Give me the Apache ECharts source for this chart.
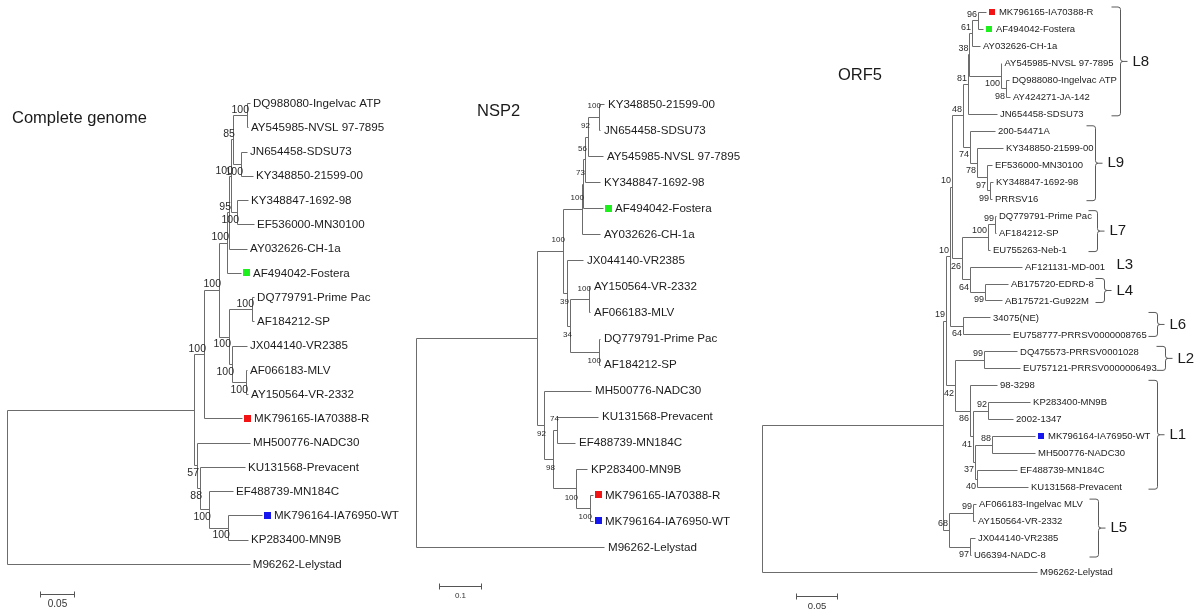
<!DOCTYPE html>
<html><head><meta charset="utf-8">
<script src="https://cdn.jsdelivr.net/npm/echarts/dist/echarts.min.js"></script>
<style>html,body{margin:0;padding:0;background:#fff}#c{width:1196px;height:615px}</style>
</head><body><div id="c"></div><script>
// ===== DATA =====
// Each tree: [node, parent, branch length (substitutions/site), bootstrap]
const genomeTree = [
 ['root', null, 0, ''],
 ['nA', 'root', 0.275, ''],
 ['nB', 'nA', 0.0147, '100'],
 ['nH', 'nB', 0.0221, '100'],
 ['nP4', 'nH', 0.0118, '100'],
 ['nP3', 'nP4', 0.0029, '95'],
 ['nP2', 'nP3', 0.0029, '100'],
 ['nP1', 'nP2', 0.0029, '85'],
 ['nATP', 'nP1', 0.0206, '100'],
 ['DQ988080-Ingelvac ATP', 'nATP', 0.0044, ''],
 ['AY545985-NVSL 97-7895', 'nATP', 0.0015, ''],
 ['nC', 'nP1', 0.0118, '100'],
 ['JN654458-SDSU73', 'nC', 0.0088, ''],
 ['KY348850-21599-00', 'nC', 0.0176, ''],
 ['nE', 'nP2', 0.0088, '100'],
 ['KY348847-1692-98', 'nE', 0.0162, ''],
 ['EF536000-MN30100', 'nE', 0.025, ''],
 ['AY032626-CH-1a', 'nP3', 0.0265, ''],
 ['AF494042-Fostera', 'nP4', 0.0206, ''],
 ['nG', 'nH', 0.0147, '100'],
 ['nPS', 'nG', 0.0338, '100'],
 ['DQ779791-Prime Pac', 'nPS', 0.003, ''],
 ['AF184212-SP', 'nPS', 0.003, ''],
 ['nF', 'nG', 0.0044, '100'],
 ['JX044140-VR2385', 'nF', 0.0221, ''],
 ['nMV', 'nF', 0.0206, '100'],
 ['AF066183-MLV', 'nMV', 0.0015, ''],
 ['AY150564-VR-2332', 'nMV', 0.003, ''],
 ['MK796165-IA70388-R', 'nB', 0.0559, ''],
 ['n57', 'nA', 0.0044, '57'],
 ['MH500776-NADC30', 'n57', 0.078, ''],
 ['n88', 'n57', 0.0044, '88'],
 ['KU131568-Prevacent', 'n88', 0.0662, ''],
 ['n100a', 'n88', 0.0132, '100'],
 ['EF488739-MN184C', 'n100a', 0.0353, ''],
 ['n100b', 'n100a', 0.0279, '100'],
 ['MK796164-IA76950-WT', 'n100b', 0.05, ''],
 ['KP283400-MN9B', 'n100b', 0.0294, ''],
 ['M96262-Lelystad', 'root', 0.357, '']
];
const genomeLabelAbove = ['nB','nH','nP4','nP3','nP2','nP1','nATP','nPS'];

const nsp2Tree = [
 ['root', null, 0, ''],
 ['r1', 'root', 0.288, ''],
 ['nA', 'r1', 0.0619, '100'],
 ['a5', 'nA', 0.0452, '100'],
 ['a4', 'a5', 0.0024, '73'],
 ['a3', 'a4', 0.0048, '56'],
 ['a2', 'a3', 0.0071, '92'],
 ['a1', 'a2', 0.0262, '100'],
 ['KY348850-21599-00', 'a1', 0.0119, ''],
 ['JN654458-SDSU73', 'a1', 0.0024, ''],
 ['AY545985-NVSL 97-7895', 'a2', 0.0357, ''],
 ['KY348847-1692-98', 'a3', 0.0357, ''],
 ['AF494042-Fostera', 'a4', 0.0476, ''],
 ['AY032626-CH-1a', 'a5', 0.0429, ''],
 ['b2', 'nA', 0.0095, '39'],
 ['JX044140-VR2385', 'b2', 0.0381, ''],
 ['b1', 'b2', 0.0071, '34'],
 ['bVM', 'b1', 0.0452, '100'],
 ['AY150564-VR-2332', 'bVM', 0.0024, ''],
 ['AF066183-MLV', 'bVM', 0.0024, ''],
 ['bPS', 'b1', 0.069, '100'],
 ['DQ779791-Prime Pac', 'bPS', 0.0024, ''],
 ['AF184212-SP', 'bPS', 0.0024, ''],
 ['nB', 'r1', 0.0167, '92'],
 ['MH500776-NADC30', 'nB', 0.1119, ''],
 ['c2', 'nB', 0.0214, '98'],
 ['c1', 'c2', 0.0095, '74'],
 ['KU131568-Prevacent', 'c1', 0.0976, ''],
 ['EF488739-MN184C', 'c1', 0.0429, ''],
 ['c3', 'c2', 0.0548, '100'],
 ['KP283400-MN9B', 'c3', 0.0262, ''],
 ['c4', 'c3', 0.0333, '100'],
 ['MK796165-IA70388-R', 'c4', 0.0071, ''],
 ['MK796164-IA76950-WT', 'c4', 0.0071, ''],
 ['M96262-Lelystad', 'root', 0.4476, '']
];
const nsp2LabelAbove = ['a1','a2','a3','a4','a5','nA','bVM','c1'];

const orf5Tree = [
 ['root', null, 0, ''],
 ['x', 'root', 0.2207, ''],
 ['y', 'x', 0.0037, '19'],
 ['g2', 'y', 0.0049, '10'],
 ['g1', 'g2', 0.0024, '10'],
 ['n5', 'g1', 0.0134, '48'],
 ['n4', 'n5', 0.0061, '81'],
 ['n3', 'n4', 0.0018, '38'],
 ['n2', 'n3', 0.003, '61'],
 ['n1', 'n2', 0.0073, '96'],
 ['MK796165-IA70388-R', 'n1', 0.0098, ''],
 ['AF494042-Fostera', 'n1', 0.0061, ''],
 ['AY032626-CH-1a', 'n2', 0.0098, ''],
 ['nA2', 'n3', 0.0384, '100'],
 ['AY545985-NVSL 97-7895', 'nA2', 0.0006, ''],
 ['nA1', 'nA2', 0.0061, '98'],
 ['DQ988080-Ingelvac ATP', 'nA1', 0.0037, ''],
 ['AY424271-JA-142', 'nA1', 0.0049, ''],
 ['JN654458-SDSU73', 'n4', 0.0354, ''],
 ['m4', 'n5', 0.0085, '74'],
 ['200-54471A', 'm4', 0.0305, ''],
 ['m3', 'm4', 0.0085, '78'],
 ['KY348850-21599-00', 'm3', 0.0317, ''],
 ['m2', 'm3', 0.0122, '97'],
 ['EF536000-MN30100', 'm2', 0.0061, ''],
 ['m1', 'm2', 0.0037, '99'],
 ['KY348847-1692-98', 'm1', 0.0037, ''],
 ['PRRSV16', 'm1', 0.0024, ''],
 ['k3', 'g1', 0.0122, '26'],
 ['k2', 'k3', 0.0317, '100'],
 ['k1', 'k2', 0.0085, '99'],
 ['DQ779791-Prime Pac', 'k1', 0.0012, ''],
 ['AF184212-SP', 'k1', 0.0012, ''],
 ['EU755263-Neb-1', 'k2', 0.0024, ''],
 ['k5', 'k3', 0.0098, '64'],
 ['AF121131-MD-001', 'k5', 0.0634, ''],
 ['k4', 'k5', 0.0183, '99'],
 ['AB175720-EDRD-8', 'k4', 0.028, ''],
 ['AB175721-Gu922M', 'k4', 0.0207, ''],
 ['h1', 'g2', 0.0159, '64'],
 ['34075(NE)', 'h1', 0.0329, ''],
 ['EU758777-PRRSV0000008765', 'h1', 0.0573, ''],
 ['z2', 'y', 0.011, '42'],
 ['j1', 'z2', 0.0354, '99'],
 ['DQ475573-PRRSV0001028', 'j1', 0.0402, ''],
 ['EU757121-PRRSV0000006493', 'j1', 0.0439, ''],
 ['i7', 'z2', 0.0183, '86'],
 ['98-3298', 'i7', 0.0329, ''],
 ['i6', 'i7', 0.0037, '41'],
 ['i1', 'i6', 0.0183, '92'],
 ['KP283400-MN9B', 'i1', 0.0512, ''],
 ['2002-1347', 'i1', 0.0305, ''],
 ['i5', 'i6', 0.0024, '37'],
 ['i2', 'i5', 0.0207, '88'],
 ['MK796164-IA76950-WT', 'i2', 0.0524, ''],
 ['MH500776-NADC30', 'i2', 0.0524, ''],
 ['i4', 'i5', 0.0024, '40'],
 ['EF488739-MN184C', 'i4', 0.0488, ''],
 ['KU131568-Prevacent', 'i4', 0.0622, ''],
 ['l3', 'x', 0.0073, '68'],
 ['l1', 'l3', 0.0293, '99'],
 ['AF066183-Ingelvac MLV', 'l1', 0.0037, ''],
 ['AY150564-VR-2332', 'l1', 0.0024, ''],
 ['l2', 'l3', 0.0256, '97'],
 ['JX044140-VR2385', 'l2', 0.0061, ''],
 ['U66394-NADC-8', 'l2', 0.0012, ''],
 ['M96262-Lelystad', 'root', 0.3354, '']
];
const orf5LabelAbove = ['n1','n2','n3','n4','n5','g1','k1','k2','g2','y','j1','i1','i2','l1','l3'];

const markerStrains = ['AF494042-Fostera', 'MK796165-IA70388-R', 'MK796164-IA76950-WT'];
const markerColors = ['#1ef01e', '#f21414', '#1616ee'];

const orf5Lineages = ['L8','L9','L7','L3','L4','L6','L2','L1','L5'];
const orf5LineageFirst = ['MK796165-IA70388-R','200-54471A','DQ779791-Prime Pac','AF121131-MD-001','AB175720-EDRD-8','34075(NE)','DQ475573-PRRSV0001028','98-3298','AF066183-Ingelvac MLV'];
const orf5LineageLast = ['JN654458-SDSU73','PRRSV16','EU755263-Neb-1','AF121131-MD-001','AB175721-Gu922M','EU758777-PRRSV0000008765','EU757121-PRRSV0000006493','KU131568-Prevacent','U66394-NADC-8'];
const orf5BracketX = [0.4366, 0.4061, 0.4085, 0.4171, 0.4171, 0.4817, 0.4915, 0.4817, 0.4098];
const orf5HasBracket = [1, 1, 1, 0, 1, 1, 1, 1, 1];

const treeTitles = ['Complete genome', 'NSP2', 'ORF5'];
const scaleBarLengths = [0.05, 0.1, 0.05];
const scaleBarTexts = ['0.05', '0.1', '0.05'];

// ===== STYLE / LAYOUT =====
const FONT = '"Liberation Sans", Arial, Helvetica, sans-serif';
const LINE = '#6c6c6c';
const TXT = '#1c1c1c';
const panelStyle = [
 {left:7, top:103, bottom:564, ppu:680, leafFont:11.6, supFont:10.5, supAbove:-5, supBelow:8, supDx:2, gap:3, sq:7, sqGap:2, sqTextGap:3, barX:40, barY:594, barFont:10, titleX:12, titleY:118},
 {left:416, top:104, bottom:547, ppu:420, leafFont:11.6, supFont:8, supAbove:-11, supBelow:9, supDx:2, gap:4, sq:7, sqGap:2, sqTextGap:3, barX:439, barY:586, barFont:8, titleX:477, titleY:111},
 {left:762, top:12, bottom:572, ppu:820, leafFont:9.5, supFont:9, supAbove:-6, supBelow:8, supDx:-1, gap:3, sq:6, sqGap:3, sqTextGap:4, barX:796, barY:596, barFont:9.5, titleX:838, titleY:75}
];
const trees = [genomeTree, nsp2Tree, orf5Tree];
const aboveLists = [genomeLabelAbove, nsp2LabelAbove, orf5LabelAbove];

function buildTree(rows){
  const nodes = {};
  rows.forEach(r => { nodes[r[0]] = {id:r[0], parent:r[1], len:r[2], sup:r[3], children:[]}; });
  let root = null;
  rows.forEach(r => { const n = nodes[r[0]]; if (n.parent === null) root = n; else nodes[n.parent].children.push(n); });
  const leaves = [], internals = [], segs = [];
  let k = 0;
  (function visit(n, base){
    n.x = base + n.len;
    if (!n.children.length) { n.y = k++; leaves.push(n); }
    else {
      n.children.forEach(c => visit(c, n.x));
      n.y = (n.children[0].y + n.children[n.children.length - 1].y) / 2;
      internals.push(n);
    }
  })(root, 0);
  rows.forEach(r => {
    const n = nodes[r[0]];
    if (n.parent !== null) { const p = nodes[n.parent]; segs.push([p.x, n.y, n.x, n.y]); }
    if (n.children.length) segs.push([n.x, n.children[0].y, n.x, n.children[n.children.length - 1].y]);
  });
  return {nodes, leaves, internals, segs, n:k};
}
const crisp = v => Math.round(v) + 0.5;
function txt(text, x, y, size, align, color){
  return {type:'text', style:{text, x, y, fontSize:size, fontFamily:FONT, fill:color || TXT,
    align, verticalAlign:'middle', textAlign:align, textVerticalAlign:'middle'}};
}

const grid = [], xAxis = [], yAxis = [], series = [], graphic = [];
const W = 430;
trees.forEach((rows, i) => {
  const s = panelStyle[i];
  const T = buildTree(rows);
  grid.push({left:s.left, top:s.top, width:W, height:s.bottom - s.top});
  xAxis.push({gridIndex:i, type:'value', min:0, max:W / s.ppu, show:false});
  yAxis.push({gridIndex:i, type:'value', min:0, max:T.n - 1, inverse:true, show:false});
  const base = {type:'custom', coordinateSystem:'cartesian2d', xAxisIndex:i, yAxisIndex:i, silent:true, animation:false, clip:false};

  // branches
  series.push(Object.assign({}, base, {
    dimensions:['x1','y1','x2','y2'], encode:{x:[0,2], y:[1,3]},
    data: T.segs,
    renderItem: (p, api) => {
      const a = api.coord([api.value(0), api.value(1)]);
      const b = api.coord([api.value(2), api.value(3)]);
      let shape;
      if (api.value(1) === api.value(3)) shape = {x1:crisp(a[0]), y1:crisp(a[1]), x2:crisp(b[0]), y2:crisp(a[1])};
      else shape = {x1:crisp(a[0]), y1:crisp(a[1]), x2:crisp(a[0]), y2:crisp(b[1])};
      return {type:'line', shape, style:{stroke:LINE, lineWidth:1}};
    }
  }));

  // leaf labels (+ coloured markers)
  series.push(Object.assign({}, base, {
    data: T.leaves.map(l => [l.x, l.y]),
    renderItem: (p, api) => {
      const leaf = T.leaves[p.dataIndex];
      const pt = api.coord([api.value(0), api.value(1)]);
      const children = [];
      let tx = pt[0] + s.gap;
      const mi = markerStrains.indexOf(leaf.id);
      if (mi >= 0) {
        children.push({type:'rect', shape:{x:Math.round(pt[0] + s.sqGap), y:Math.round(pt[1] - s.sq / 2), width:s.sq, height:s.sq}, style:{fill:markerColors[mi]}});
        tx = pt[0] + s.sqGap + s.sq + s.sqTextGap;
      }
      children.push(txt(leaf.id, tx, pt[1] + 0.5, s.leafFont, 'left'));
      return {type:'group', children};
    }
  }));

  // bootstrap values
  const sups = T.internals.filter(n => n.sup !== '');
  series.push(Object.assign({}, base, {
    data: sups.map(n => [n.x, n.y]),
    renderItem: (p, api) => {
      const n = sups[p.dataIndex];
      const pt = api.coord([api.value(0), api.value(1)]);
      const dy = aboveLists[i].indexOf(n.id) >= 0 ? s.supAbove : s.supBelow;
      return txt(n.sup, pt[0] + s.supDx, pt[1] + dy, s.supFont, 'right', '#2a2a2a');
    }
  }));

  // scale bar
  series.push(Object.assign({}, base, {
    data: [[0, 0]],
    renderItem: (p, api) => {
      const len = api.size([scaleBarLengths[i], 0])[0];
      const x0 = s.barX + 0.5, x1 = s.barX + len + 0.5, y = s.barY + 0.5;
      return {type:'group', children:[
        {type:'line', shape:{x1:x0, y1:y, x2:x1, y2:y}, style:{stroke:'#555', lineWidth:1}},
        {type:'line', shape:{x1:x0, y1:y - 3, x2:x0, y2:y + 3}, style:{stroke:'#555', lineWidth:1}},
        {type:'line', shape:{x1:x1, y1:y - 3, x2:x1, y2:y + 3}, style:{stroke:'#555', lineWidth:1}},
        txt(scaleBarTexts[i], (x0 + x1) / 2, s.barY + 10, s.barFont, 'center', '#333')
      ]};
    }
  }));

  graphic.push({type:'text', x:s.titleX, y:s.titleY, silent:true,
    style:{text:treeTitles[i], fontSize:16.5, fontFamily:FONT, fill:'#1a1a1a', verticalAlign:'middle', textVerticalAlign:'middle'}});

  // lineage brackets for ORF5
  if (i === 2) {
    const idx = name => T.leaves.findIndex(l => l.id === name);
    series.push(Object.assign({}, base, {
      data: orf5Lineages.map((L, j) => [orf5BracketX[j], idx(orf5LineageFirst[j]), idx(orf5LineageLast[j])]),
      renderItem: (p, api) => {
        const j = p.dataIndex;
        const a = api.coord([api.value(0), api.value(1)]);
        const b = api.coord([api.value(0), api.value(2)]);
        const xv = Math.round(a[0]) + 0.5;
        const top = a[1] - 5, bot = b[1] + 2, mid = (top + bot) / 2;
        const children = [];
        if (orf5HasBracket[j]) {
          const arm = 9, r = 2.5, tick = 7;
          const d = `M${xv - arm},${top} L${xv - r},${top} Q${xv},${top} ${xv},${top + r} L${xv},${mid - r} Q${xv},${mid} ${xv + r},${mid} L${xv + tick},${mid} M${xv + r},${mid} Q${xv},${mid} ${xv},${mid + r} L${xv},${bot - r} Q${xv},${bot} ${xv - r},${bot} L${xv - arm},${bot}`;
          children.push({type:'path', shape:{pathData:d}, style:{stroke:'#5a5a5a', lineWidth:1, fill:null}});
        }
        children.push(txt(orf5Lineages[j], xv + 12, mid, 15, 'left', '#1a1a1a'));
        return {type:'group', children};
      }
    }));
  }
});

const chart = echarts.init(document.getElementById('c'), null, {renderer:'canvas'});
chart.setOption({animation:false, backgroundColor:'#fff', grid, xAxis, yAxis, series, graphic});
</script></body></html>
